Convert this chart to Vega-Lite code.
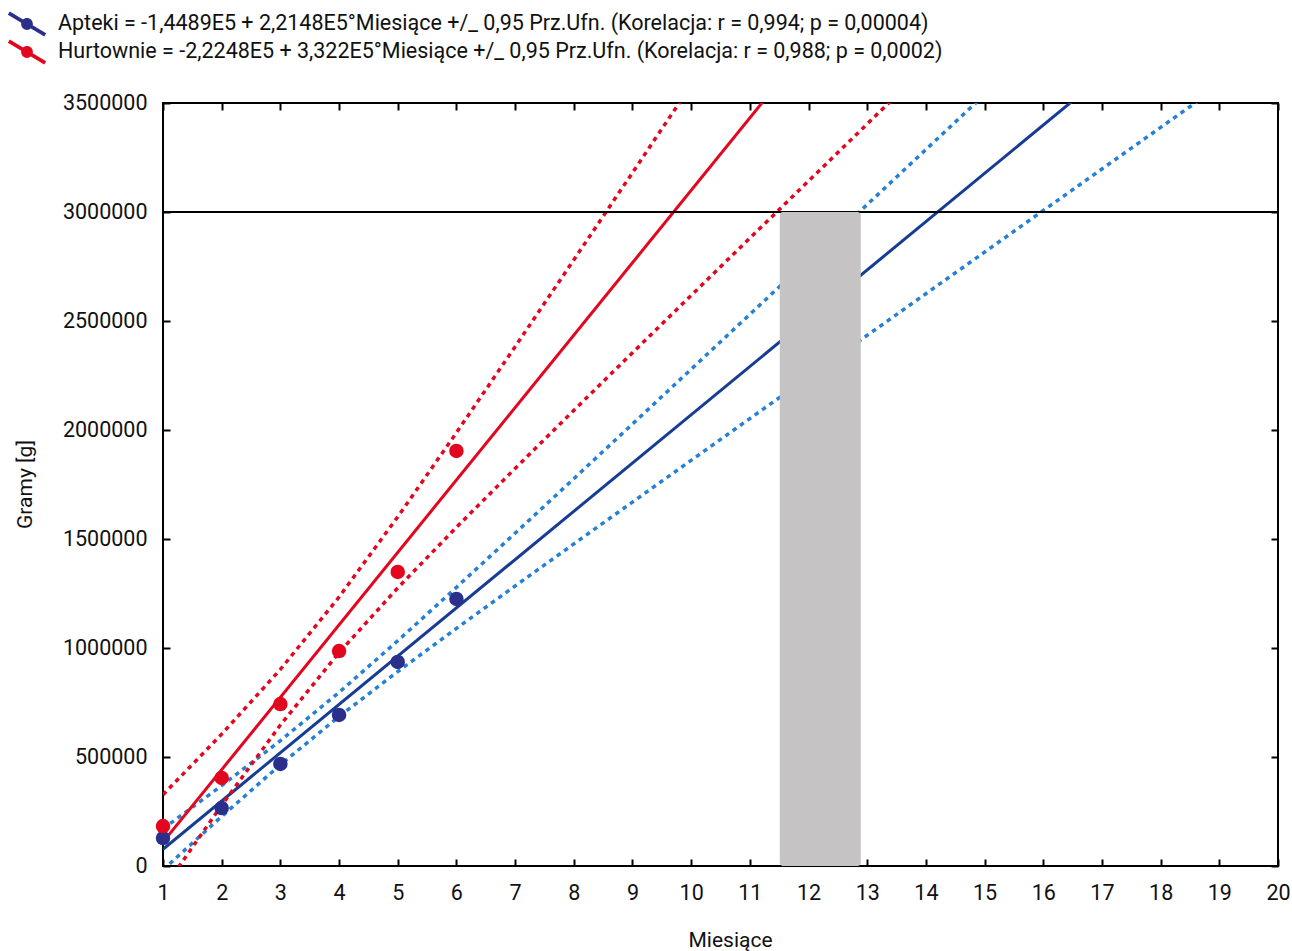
{
  "$schema": "https://vega.github.io/schema/vega-lite/v6.json",
  "width": 1115,
  "height": 763,
  "autosize": {"type": "none"},
  "padding": {"left": 163, "top": 103, "right": 14, "bottom": 85},
  "background": "white",
  "config": {
    "font": "Roboto",
    "view": {"stroke": "#000", "strokeWidth": 2},
    "axis": {
      "grid": false,
      "domain": false,
      "ticks": true,
      "tickColor": "#000",
      "tickWidth": 2,
      "tickSize": -7,
      "labelFlush": false,
      "labelFont": "Roboto",
      "labelFontSize": 21.5,
      "labelColor": "#111",
      "titleFont": "Roboto",
      "titleFontSize": 21,
      "titleFontWeight": "normal",
      "titleColor": "#111"
    }
  },
  "datasets": {
    "punkty": [
      {"seria": "Apteki", "miesiac": 1, "gramy": 128000},
      {"seria": "Apteki", "miesiac": 2, "gramy": 266000},
      {"seria": "Apteki", "miesiac": 3, "gramy": 468000},
      {"seria": "Apteki", "miesiac": 4, "gramy": 693000},
      {"seria": "Apteki", "miesiac": 5, "gramy": 936000},
      {"seria": "Apteki", "miesiac": 6, "gramy": 1225000},
      {"seria": "Hurtownie", "miesiac": 1, "gramy": 183000},
      {"seria": "Hurtownie", "miesiac": 2, "gramy": 404000},
      {"seria": "Hurtownie", "miesiac": 3, "gramy": 743000},
      {"seria": "Hurtownie", "miesiac": 4, "gramy": 986000},
      {"seria": "Hurtownie", "miesiac": 5, "gramy": 1349000},
      {"seria": "Hurtownie", "miesiac": 6, "gramy": 1904000}
    ],
    "linie": [
      {"seria": "Apteki", "linia": "dopasowanie", "miesiac": 1, "gramy": 76590},
      {"seria": "Apteki", "linia": "dopasowanie", "miesiac": 20, "gramy": 4284710},
      {"seria": "Apteki", "linia": "górna", "miesiac": 1, "gramy": 170700},
      {"seria": "Apteki", "linia": "górna", "miesiac": 2, "gramy": 368700},
      {"seria": "Apteki", "linia": "górna", "miesiac": 3, "gramy": 574900},
      {"seria": "Apteki", "linia": "górna", "miesiac": 4, "gramy": 796300},
      {"seria": "Apteki", "linia": "górna", "miesiac": 5, "gramy": 1033100},
      {"seria": "Apteki", "linia": "górna", "miesiac": 6, "gramy": 1278100},
      {"seria": "Apteki", "linia": "górna", "miesiac": 7, "gramy": 1526500},
      {"seria": "Apteki", "linia": "górna", "miesiac": 8, "gramy": 1776600},
      {"seria": "Apteki", "linia": "górna", "miesiac": 9, "gramy": 2027400},
      {"seria": "Apteki", "linia": "górna", "miesiac": 10, "gramy": 2278800},
      {"seria": "Apteki", "linia": "górna", "miesiac": 11, "gramy": 2530400},
      {"seria": "Apteki", "linia": "górna", "miesiac": 12, "gramy": 2782300},
      {"seria": "Apteki", "linia": "górna", "miesiac": 13, "gramy": 3034400},
      {"seria": "Apteki", "linia": "górna", "miesiac": 14, "gramy": 3286400},
      {"seria": "Apteki", "linia": "górna", "miesiac": 15, "gramy": 3538600},
      {"seria": "Apteki", "linia": "dolna", "miesiac": 1, "gramy": -17500},
      {"seria": "Apteki", "linia": "dolna", "miesiac": 2, "gramy": 227500},
      {"seria": "Apteki", "linia": "dolna", "miesiac": 3, "gramy": 464300},
      {"seria": "Apteki", "linia": "dolna", "miesiac": 4, "gramy": 685700},
      {"seria": "Apteki", "linia": "dolna", "miesiac": 5, "gramy": 891900},
      {"seria": "Apteki", "linia": "dolna", "miesiac": 6, "gramy": 1089900},
      {"seria": "Apteki", "linia": "dolna", "miesiac": 7, "gramy": 1284500},
      {"seria": "Apteki", "linia": "dolna", "miesiac": 8, "gramy": 1477400},
      {"seria": "Apteki", "linia": "dolna", "miesiac": 9, "gramy": 1669400},
      {"seria": "Apteki", "linia": "dolna", "miesiac": 10, "gramy": 1861000},
      {"seria": "Apteki", "linia": "dolna", "miesiac": 11, "gramy": 2052400},
      {"seria": "Apteki", "linia": "dolna", "miesiac": 12, "gramy": 2243500},
      {"seria": "Apteki", "linia": "dolna", "miesiac": 13, "gramy": 2434400},
      {"seria": "Apteki", "linia": "dolna", "miesiac": 14, "gramy": 2625200},
      {"seria": "Apteki", "linia": "dolna", "miesiac": 15, "gramy": 2816000},
      {"seria": "Apteki", "linia": "dolna", "miesiac": 16, "gramy": 3006700},
      {"seria": "Apteki", "linia": "dolna", "miesiac": 17, "gramy": 3197400},
      {"seria": "Apteki", "linia": "dolna", "miesiac": 18, "gramy": 3388100},
      {"seria": "Apteki", "linia": "dolna", "miesiac": 19, "gramy": 3578600},
      {"seria": "Hurtownie", "linia": "dopasowanie", "miesiac": 1, "gramy": 109720},
      {"seria": "Hurtownie", "linia": "dopasowanie", "miesiac": 14, "gramy": 4428320},
      {"seria": "Hurtownie", "linia": "górna", "miesiac": 1, "gramy": 326800},
      {"seria": "Hurtownie", "linia": "górna", "miesiac": 2, "gramy": 604900},
      {"seria": "Hurtownie", "linia": "górna", "miesiac": 3, "gramy": 901700},
      {"seria": "Hurtownie", "linia": "górna", "miesiac": 4, "gramy": 1233900},
      {"seria": "Hurtownie", "linia": "górna", "miesiac": 5, "gramy": 1601500},
      {"seria": "Hurtownie", "linia": "górna", "miesiac": 6, "gramy": 1987800},
      {"seria": "Hurtownie", "linia": "górna", "miesiac": 7, "gramy": 2382200},
      {"seria": "Hurtownie", "linia": "górna", "miesiac": 8, "gramy": 2780300},
      {"seria": "Hurtownie", "linia": "górna", "miesiac": 9, "gramy": 3180300},
      {"seria": "Hurtownie", "linia": "górna", "miesiac": 10, "gramy": 3581600},
      {"seria": "Hurtownie", "linia": "dolna", "miesiac": 1, "gramy": -107400},
      {"seria": "Hurtownie", "linia": "dolna", "miesiac": 2, "gramy": 278900},
      {"seria": "Hurtownie", "linia": "dolna", "miesiac": 3, "gramy": 646500},
      {"seria": "Hurtownie", "linia": "dolna", "miesiac": 4, "gramy": 978700},
      {"seria": "Hurtownie", "linia": "dolna", "miesiac": 5, "gramy": 1275500},
      {"seria": "Hurtownie", "linia": "dolna", "miesiac": 6, "gramy": 1553600},
      {"seria": "Hurtownie", "linia": "dolna", "miesiac": 7, "gramy": 1823600},
      {"seria": "Hurtownie", "linia": "dolna", "miesiac": 8, "gramy": 2089900},
      {"seria": "Hurtownie", "linia": "dolna", "miesiac": 9, "gramy": 2354300},
      {"seria": "Hurtownie", "linia": "dolna", "miesiac": 10, "gramy": 2617400},
      {"seria": "Hurtownie", "linia": "dolna", "miesiac": 11, "gramy": 2880100},
      {"seria": "Hurtownie", "linia": "dolna", "miesiac": 12, "gramy": 3142100},
      {"seria": "Hurtownie", "linia": "dolna", "miesiac": 13, "gramy": 3403900},
      {"seria": "Hurtownie", "linia": "dolna", "miesiac": 14, "gramy": 3665400}
    ],
    "okres": [
      {"od": 11.51, "do": 12.89, "gora": 3000000, "dol": 0}
    ],
    "prog": [
      {"gramy": 3000000}
    ]
  },
  "resolve": {"axis": {"x": "independent", "y": "independent"}},
  "layer": [
    {
      "data": {"name": "linie"},
      "transform": [{"filter": "datum.seria === 'Apteki' && datum.linia !== 'dopasowanie'"}],
      "mark": {"type": "line", "clip": true, "color": "#2680d4", "strokeWidth": 3.5, "strokeDash": [4.5, 4.5]},
      "encoding": {
        "x": {"field": "miesiac", "type": "quantitative", "scale": {"domain": [1, 20], "nice": false, "zero": false}, "axis": null},
        "y": {"field": "gramy", "type": "quantitative", "scale": {"domain": [0, 3500000], "nice": false}, "axis": null},
        "detail": {"field": "linia"}
      }
    },
    {
      "data": {"name": "linie"},
      "transform": [{"filter": "datum.seria === 'Apteki' && datum.linia === 'dopasowanie'"}],
      "mark": {"type": "line", "clip": true, "color": "#163c94", "strokeWidth": 3},
      "encoding": {
        "x": {"field": "miesiac", "type": "quantitative", "axis": null},
        "y": {"field": "gramy", "type": "quantitative", "axis": null}
      }
    },
    {
      "data": {"name": "linie"},
      "transform": [{"filter": "datum.seria === 'Hurtownie' && datum.linia !== 'dopasowanie'"}],
      "mark": {"type": "line", "clip": true, "color": "#e2061e", "strokeWidth": 3.5, "strokeDash": [4.5, 4.5]},
      "encoding": {
        "x": {"field": "miesiac", "type": "quantitative", "axis": null},
        "y": {"field": "gramy", "type": "quantitative", "axis": null},
        "detail": {"field": "linia"}
      }
    },
    {
      "data": {"name": "linie"},
      "transform": [{"filter": "datum.seria === 'Hurtownie' && datum.linia === 'dopasowanie'"}],
      "mark": {"type": "line", "clip": true, "color": "#e2061e", "strokeWidth": 3},
      "encoding": {
        "x": {"field": "miesiac", "type": "quantitative", "axis": null},
        "y": {"field": "gramy", "type": "quantitative", "axis": null}
      }
    },
    {
      "data": {"name": "prog"},
      "mark": {"type": "rule", "color": "#000", "strokeWidth": 2},
      "encoding": {
        "y": {"field": "gramy", "type": "quantitative", "axis": null}
      }
    },
    {
      "data": {"name": "okres"},
      "mark": {"type": "rect", "color": "#c5c3c4", "cornerRadius": 3},
      "encoding": {
        "x": {"field": "od", "type": "quantitative", "axis": {"orient": "top", "labels": false, "title": null, "values": [1,2,3,4,5,6,7,8,9,10,11,12,13,14,15,16,17,18,19,20]}},
        "x2": {"field": "do"},
        "y": {"field": "gora", "type": "quantitative", "axis": {"orient": "right", "labels": false, "title": null, "values": [0, 500000, 1000000, 1500000, 2000000, 2500000, 3000000, 3500000]}},
        "y2": {"field": "dol"}
      }
    },
    {
      "data": {"name": "punkty"},
      "mark": {"type": "circle", "size": 210, "opacity": 1},
      "encoding": {
        "x": {
          "field": "miesiac", "type": "quantitative",
          "axis": {"orient": "bottom", "title": "Miesiące", "values": [1,2,3,4,5,6,7,8,9,10,11,12,13,14,15,16,17,18,19,20], "labelPadding": 23, "titleX": 567, "titleY": 74, "titleBaseline": "middle"}
        },
        "y": {
          "field": "gramy", "type": "quantitative",
          "axis": {"orient": "left", "title": "Gramy [g]", "values": [0, 500000, 1000000, 1500000, 2000000, 2500000, 3000000, 3500000], "format": "d", "labelPadding": 23, "titleX": -138, "titleY": 381, "titleBaseline": "middle"}
        },
        "color": {
          "field": "seria", "type": "nominal",
          "scale": {"domain": ["Apteki", "Hurtownie"], "range": ["#2b2f8c", "#e2061e"]},
          "legend": {
            "orient": "none",
            "legendX": -150,
            "legendY": -93,
            "direction": "vertical",
            "title": null,
            "symbolType": "M-1.233,-0.891L1.367,0.669L1.233,0.891L-1.367,-0.669Z M0.42,0A0.42,0.42 0 1,1 -0.42,0A0.42,0.42 0 1,1 0.42,0Z",
            "symbolSize": 784,
            "symbolStrokeWidth": 0,
            "symbolOpacity": 1,
            "labelFont": "Roboto",
            "labelFontSize": 21.5,
            "labelColor": "#111",
            "labelLimit": 1200,
            "labelOffset": 17,
            "rowPadding": 1,
            "labelExpr": "datum.label === 'Apteki' ? 'Apteki = -1,4489E5 + 2,2148E5°Miesiące +/_ 0,95 Prz.Ufn. (Korelacja: r = 0,994; p = 0,00004)' : 'Hurtownie = -2,2248E5 + 3,322E5°Miesiące +/_ 0,95 Prz.Ufn. (Korelacja: r = 0,988; p = 0,0002)'"
          }
        }
      }
    }
  ]
}
